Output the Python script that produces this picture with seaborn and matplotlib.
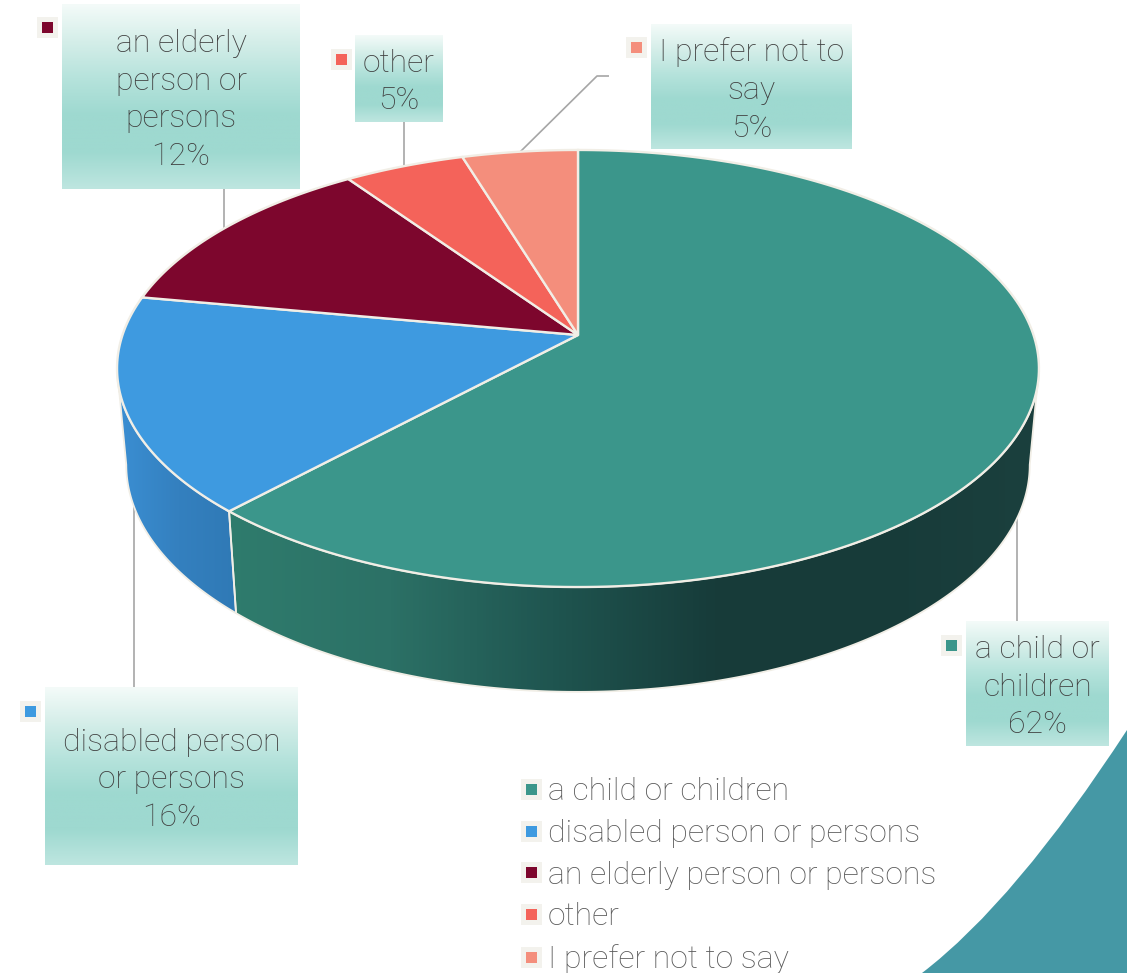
import numpy as np
import matplotlib
matplotlib.use("Agg")
import matplotlib.pyplot as plt
import seaborn as sns
from matplotlib.colors import LinearSegmentedColormap
from matplotlib.lines import Line2D
from matplotlib.patches import PathPatch, Polygon
from matplotlib.path import Path

# chart data
categories = ["a child or children", "disabled person or persons", "an elderly person or persons", "other", "I prefer not to say"]
wrapped = ["a child or\nchildren", "disabled person\nor persons", "an elderly\nperson or\npersons", "other", "I prefer not to\nsay"]
shares = [61.9, 16.0, 12.49, 4.91, 4.7]
slice_colors = ["#3B968B", "#3E9AE0", "#7D062D", "#F4635A", "#F48E7C"]

# label layout in pixels
boxes = [(966, 621, 1109, 746), (45, 687, 298, 865), (62, 4, 300, 189), (355, 35, 443, 122), (651, 24, 852, 149)]
text_y = [687, 780, 100, 82, 90]
keys = [(951, 645), (30, 711), (47, 27), (341, 59), (636, 47)]
leaders = [[(1017, 515), (1017, 621)], [(134, 500), (134, 687)], [(224, 188), (224, 228)],
           [(404, 122), (404, 168)], [(519, 153), (597, 76), (609, 76)]]

W, H = 1127, 973
APEX_X, APEX_Y = 578, 335
SCALE_X, SCALE_Y, PERSP = 455.5, 213.4, 0.1533
DEPTH, LOWER_X, LOWER_Y = 95, 0.98, 1.039
TEXT = "#404040"
RIM = "#F1EEE6"

sns.set_theme(style="white")
plt.rcParams["font.family"] = ["Roboto", "DejaVu Sans"]
palette = sns.color_palette(slice_colors)


def project(theta, sx=1.0, sy=1.0, dy=0.0):
    """Clockwise angle from the top of the disc to picture coords."""
    x, y = np.sin(theta), np.cos(theta)
    d = 1 + PERSP * y
    return np.column_stack([APEX_X + sx * SCALE_X * x / d, APEX_Y + dy - sy * SCALE_Y * y / d])


def gradient_fill(ax, verts, colors, vertical=False, bounds=None):
    patch = Polygon(verts, closed=True, fc="none", ec="none")
    ax.add_patch(patch)
    cmap = LinearSegmentedColormap.from_list("g", colors)
    ramp = np.linspace(0, 1, 256)
    ramp = ramp[:, None] if vertical else ramp[None, :]
    x0, y0, x1, y1 = bounds
    im = ax.imshow(ramp, cmap=cmap, extent=(x0, x1, y1, y0), aspect="auto", zorder=2, vmin=0, vmax=1)
    im.set_clip_path(patch)


fig = plt.figure(figsize=(W / 100, H / 100), dpi=100, facecolor="white")
ax = fig.add_axes([0, 0, 1, 1])

# corner shape
corner = Path([(1127, 730), (1015, 902), (922, 973), (1127, 973), (1127, 730)],
              [Path.MOVETO, Path.CURVE3, Path.CURVE3, Path.LINETO, Path.CLOSEPOLY])
ax.add_patch(PathPatch(corner, fc="#4598A5", ec="none", zorder=1))

# angles of the slice borders
edges = np.concatenate([[0], np.cumsum(shares)]) / sum(shares) * 2 * np.pi
widest = np.arcsin(PERSP)
right_t, left_t = np.pi / 2 + widest, 3 * np.pi / 2 - widest

# side wall
teal_t = np.linspace(right_t, edges[1], 200)
blue_t = np.linspace(edges[1], left_t, 100)
for t, cols, bnd in [(teal_t, ["#2F7C6D", "#2C7166", "#1F5550", "#173C3A", "#173B39", "#1B403E"], (225, 300, 1040, 700)),
                     (blue_t, ["#3B8FD3", "#3480BF", "#2F79B5"], (117, 300, 240, 700))]:
    verts = np.vstack([project(t), project(t[::-1], LOWER_X, LOWER_Y, DEPTH)])
    gradient_fill(ax, verts, cols, bounds=bnd)
    ax.add_patch(Polygon(verts, closed=True, fc="none", ec=RIM, lw=1.3, zorder=3))

# top of the pie
for i, col in enumerate(palette):
    arc = project(np.linspace(edges[i], edges[i + 1], 200))
    verts = np.vstack([[APEX_X, APEX_Y], arc])
    ax.add_patch(Polygon(verts, closed=True, fc=col, ec=RIM, lw=1.7, zorder=4))

# data labels
for i, name in enumerate(wrapped):
    x0, y0, x1, y1 = boxes[i]
    verts = [(x0, y0), (x1, y0), (x1, y1), (x0, y1)]
    gradient_fill(ax, verts, ["#F4FBF9", "#D5EEE9", "#B6E3DC", "#9ED9D0", "#9ED9D0", "#BEE6E0"], vertical=True, bounds=boxes[i])
    ax.plot(*zip(*leaders[i]), color="#A6A6A6", lw=1.2, zorder=1.5, solid_capstyle="butt")
    ax.text((x0 + x1) / 2, text_y[i], f"{name}\n{round(shares[i])}%", ha="center", va="center", color=TEXT,
            fontsize=23, fontweight="light", linespacing=1.39, zorder=6)
    ax.plot(*keys[i], marker="s", ms=12.2, mew=3.6, mfc=slice_colors[i], mec="#F3F2ED", ls="none", zorder=6)

# legend
handles = [Line2D([], [], marker="s", ls="none", ms=12.2, mew=3.6, mfc=c, mec="#F3F2ED") for c in slice_colors]
leg = ax.legend(handles, categories, loc="upper left", bbox_to_anchor=(515, 777), bbox_transform=ax.transData,
                frameon=False, labelspacing=0.40, handletextpad=0.03, handlelength=1.0,
                borderpad=0, borderaxespad=0, labelcolor="#595959", prop={"size": 23, "weight": "light"})
leg.set_zorder(6)

ax.set_xlim(0, W)
ax.set_ylim(H, 0)
ax.axis("off")
fig.savefig("out.png", dpi=100)
